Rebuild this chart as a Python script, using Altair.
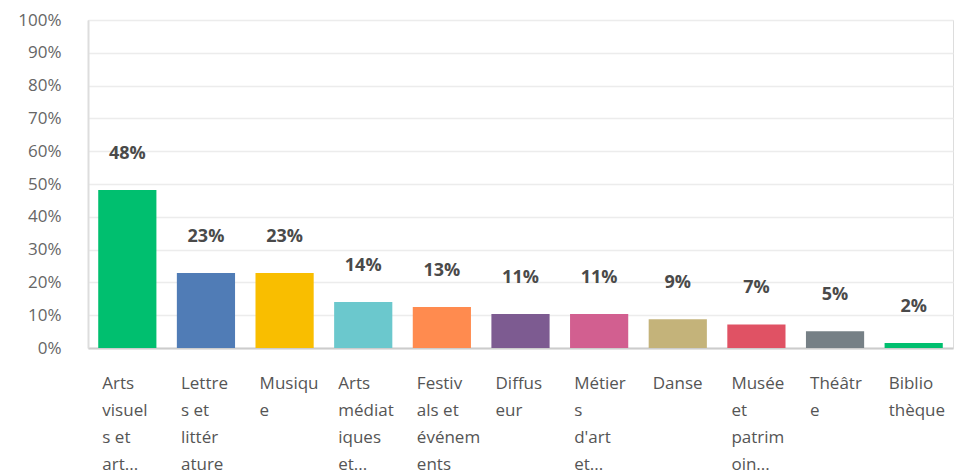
import altair as alt
import pandas as pd

# Category labels as wrapped in the picture ("|" = line break)
labels = [
    "Arts|visuel|s et|art...",
    "Lettre|s et|littér|ature",
    "Musiqu|e",
    "Arts|médiat|iques|et...",
    "Festiv|als et|événem|ents",
    "Diffus|eur",
    "Métier|s|d'art|et...",
    "Danse",
    "Musée|et|patrim|oin...",
    "Théâtr|e",
    "Biblio|thèque",
]
values = [48.2, 22.9, 22.9, 14.0, 12.5, 10.4, 10.4, 8.8, 7.2, 5.1, 1.5]
value_text = ["48%", "23%", "23%", "14%", "13%", "11%", "11%", "9%", "7%", "5%", "2%"]
colors = ["#00bf6f", "#507cb6", "#f9be00", "#6bc8cd", "#ff8b4f", "#7d5b91",
          "#d25f90", "#c4b37a", "#e05264", "#768086", "#00bf6f"]

df = pd.DataFrame({"label": labels, "value": values, "text": value_text, "color": colors})

FONT = "Open Sans"

x = alt.X(
    "label:N", sort=None, title=None,
    scale=alt.Scale(paddingInner=0.26, paddingOuter=0.13),
    axis=alt.Axis(
        labelExpr="split(datum.label, '|')",
        labelAngle=0, labelAlign="left", labelBaseline="top",
        labelOffset=-25, labelPadding=27, labelLineHeight=27,
        labelFont=FONT, labelFontSize=17, labelColor="#555555",
        ticks=False, domainColor="#cccccc", domainWidth=2, labelLimit=200,
        labelOverlap=False, labelBound=False, labelFlush=False,
    ),
)
y = alt.Y(
    "value:Q", title=None,
    scale=alt.Scale(domain=[0, 100], nice=False),
    axis=alt.Axis(
        values=list(range(0, 101, 10)), labelExpr="datum.value + '%'",
        ticks=False, labelPadding=27, labelFont=FONT, labelFontSize=17,
        labelColor="#666666", domainColor="#dddddd", domainWidth=2,
        gridColor="#ececec", gridWidth=1.5,
    ),
)

bars = alt.Chart(df).mark_bar().encode(
    x=x, y=y, color=alt.Color("color:N", scale=None)
)
text = alt.Chart(df).mark_text(
    dy=-36, baseline="middle", align="center", font=FONT, fontSize=18,
    fontWeight="bold", color="#4a4a4a"
).encode(x=x, y=y, text="text:N")

chart = (bars + text).properties(
    width=865, height=328,
    autosize=alt.AutoSizeParams(type="none"),
    padding={"left": 88, "top": 20, "right": 1, "bottom": 126},
).configure_view(stroke=None).configure(background="white")

chart.save("out.html", embed_options={"renderer": "svg", "actions": False})
